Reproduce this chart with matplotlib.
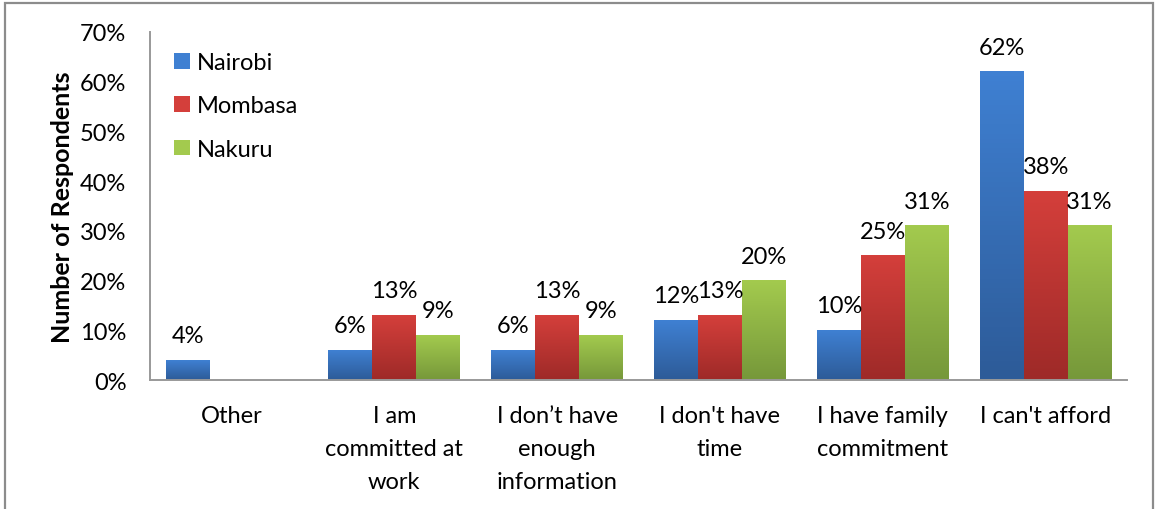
import matplotlib.pyplot as plt
import numpy as np
from matplotlib.colors import LinearSegmentedColormap
from matplotlib.patches import Rectangle

categories = ["Other", "I am\ncommitted at\nwork", "I don\u2019t have\nenough\ninformation",
              "I don't have\ntime", "I have family\ncommitment", "I can't afford"]
nairobi = [4, 6, 6, 12, 10, 62]
mombasa = [0, 13, 13, 13, 25, 38]
nakuru = [0, 9, 9, 20, 31, 31]

series = [
    ("Nairobi", nairobi, "#3f80d2", "#2d5b98"),
    ("Mombasa", mombasa, "#d43f3b", "#9e2a28"),
    ("Nakuru", nakuru, "#a3ca4e", "#76983a"),
]

plt.rcParams["font.family"] = ["Lato", "DejaVu Sans"]
FS = 17

fig = plt.figure(figsize=(11.56, 5.1), dpi=100)
ax = fig.add_axes([0.1298, 0.2529, 0.975 - 0.1298, 0.9353 - 0.2529])

# outer frame of the chart area
fig.add_artist(Rectangle((5 / 1156, -0.01), 1148 / 1156, 1 - 4 / 510 + 0.01,
                         transform=fig.transFigure, fill=False,
                         edgecolor="#8c8c8c", linewidth=1.6))

x = np.arange(len(categories))
width = 0.27
grad = np.linspace(1, 0, 64).reshape(-1, 1)

for i, (name, vals, top, bottom) in enumerate(series):
    cmap = LinearSegmentedColormap.from_list(name, [bottom, top])
    pos = x + (i - 1) * width
    # invisible bars carry the geometry, imshow paints the gradient fill
    bars = ax.bar(pos, vals, width, color=top, alpha=0)
    for b, v in zip(bars, vals):
        if v <= 0:
            continue
        x0 = b.get_x()
        ax.imshow(grad, extent=[x0, x0 + width, 0, v], aspect="auto",
                  cmap=cmap, vmin=0, vmax=1, zorder=2)
        ax.annotate(f"{v}%", (x0 + width / 2, v), xytext=(0, 18),
                    textcoords="offset pixels", ha="center", va="baseline",
                    fontsize=FS, color="black", zorder=3)

ax.set_xlim(-0.5, len(categories) - 0.5)
ax.set_ylim(0, 70)
ax.set_yticks(range(0, 71, 10))
ax.set_yticklabels([f"{t}%" for t in range(0, 71, 10)])
ax.set_xticks(x)
ax.set_xticklabels(categories, linespacing=1.7, va="top")
ax.tick_params(axis="both", length=0, labelsize=FS, colors="black")
ax.tick_params(axis="y", pad=17)
ax.tick_params(axis="x", pad=18)

for s in ["top", "right"]:
    ax.spines[s].set_visible(False)
for s in ["left", "bottom"]:
    ax.spines[s].set_color("#999999")
    ax.spines[s].set_linewidth(1.4)

ax.set_ylabel("Number of Respondents", fontsize=18, fontweight="bold", labelpad=4)

handles = [Rectangle((0, 0), 1, 1, facecolor=top) for _, _, top, _ in series]
ax.legend(handles, [s[0] for s in series], loc="upper left",
          bbox_to_anchor=(0.008, 0.99), frameon=False, fontsize=FS,
          handlelength=0.65, handleheight=0.65, handletextpad=0.3,
          labelspacing=0.95, borderaxespad=0.3)

fig.savefig("out.png", dpi=100)
